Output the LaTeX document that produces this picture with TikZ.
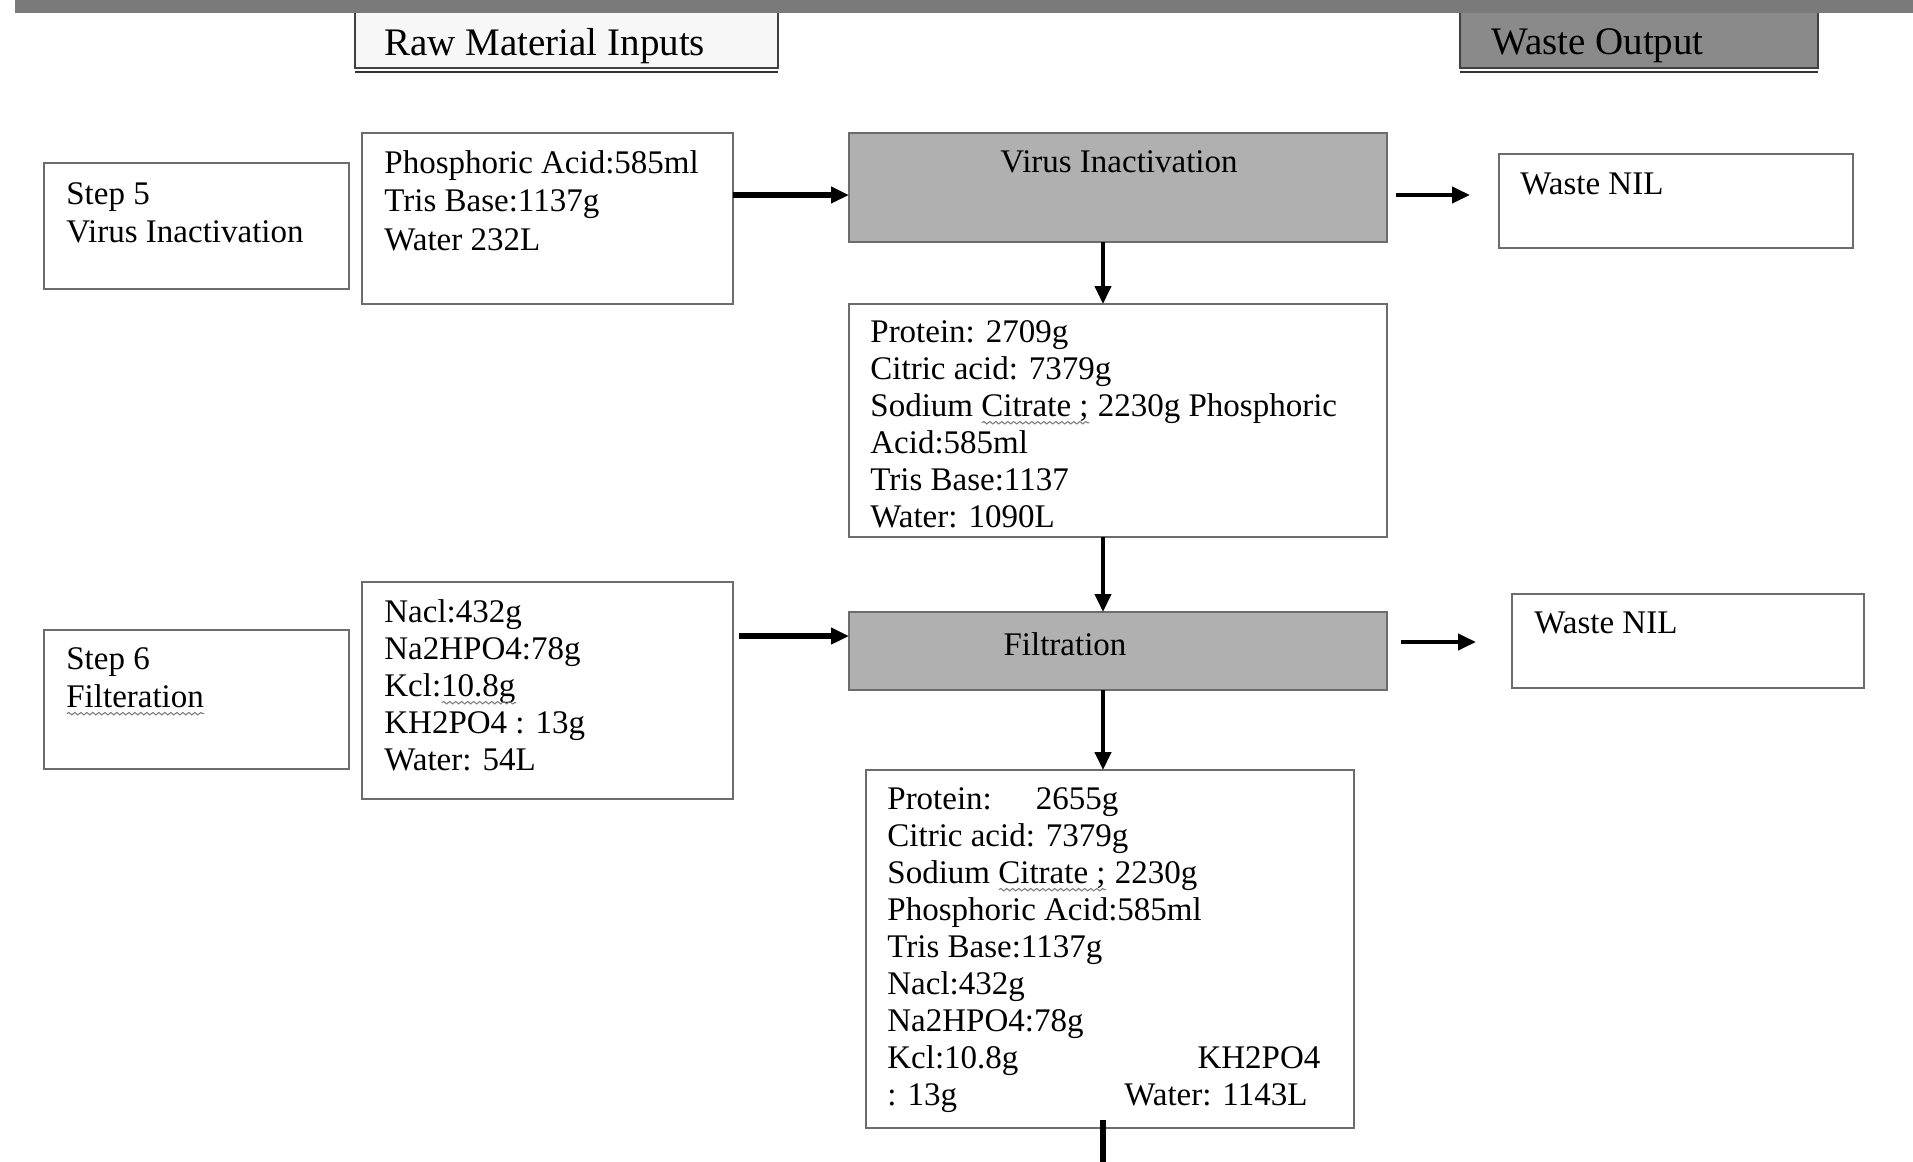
\documentclass[tikz,border=0pt]{standalone}
\usepackage{fontspec}
\setmainfont{Liberation Serif}
\usetikzlibrary{arrows.meta,decorations.pathmorphing}

\definecolor{edge}{RGB}{108,108,108}
\definecolor{stepfill}{RGB}{176,176,176}
\definecolor{barfill}{RGB}{122,122,122}
\definecolor{wastehead}{RGB}{138,138,138}
\definecolor{rawhead}{RGB}{247,247,247}

% wavy spell-check style underline
\newsavebox\spellbox
\newcommand\spellmark[1]{\sbox\spellbox{#1}\rlap{\usebox\spellbox}%
  \tikz[baseline=3.2pt]\draw[decorate, decoration={snake, amplitude=0.6pt, segment length=3pt},
    black!50, line width=0.55pt] (0pt,0pt) -- (\the\wd\spellbox,0pt);}

\tikzset{
  size/.style 2 args={minimum width=#1*0.5pt, minimum height=#2*0.5pt},
  box/.style={rectangle, draw=edge, line width=1.3pt, fill=white,
              inner sep=0pt, outer sep=0pt, anchor=north west},
  stepbox/.style={box, fill=stepfill},
  headbox/.style={rectangle, draw=black!75, line width=0.9pt,
              inner sep=0pt, outer sep=0pt, anchor=north west},
  txt/.style={anchor=north west, inner sep=0pt, align=left,
              font=\fontsize{16.5}{18.5}\selectfont},
  headtxt/.style={anchor=west, inner sep=0pt, font=\fontsize{19.5}{22}\selectfont},
  flow/.style={-{Triangle[length=9pt,width=8pt]}, line width=2pt},
  feed/.style={flow, line width=2.6pt},
}

\begin{document}
\begin{tikzpicture}[x=0.5pt, y=-0.5pt]
\useasboundingbox (0,0) rectangle (1913,1162);

% column headers
\node[headbox, fill=rawhead, size={423}{56}] (raw) at (355,12) {};
\node[headbox, fill=wastehead, size={358}{56}] (wout) at (1460,12) {};
\draw[black!80, line width=0.8pt] ([yshift=-2pt]raw.south west) -- ([yshift=-2pt]raw.south east);
\draw[black!80, line width=0.8pt] ([yshift=-2pt]wout.south west) -- ([yshift=-2pt]wout.south east);
\node[headtxt] (rawt) at ([shift={(29,6)}]raw.west) {Raw Material Inputs};
\node[headtxt] (woutt) at ([shift={(31,6)}]wout.west) {Waste Output};
\fill[barfill] (15,0) rectangle (1913,13);

% step 5
\node[box, size={305}{126}] (s5) at (44,163) {};
\node[txt, font=\fontsize{16.5}{19}\selectfont] (s5t) at ([shift={(22,19)}]s5.north west) {Step 5\\Virus Inactivation};
\node[box, size={371}{171}] (b1) at (362,133) {};
\node[txt, font=\fontsize{16.5}{19.2}\selectfont] (b1t) at ([shift={(22,17)}]b1.north west)
  {Phosphoric Acid:585ml\\Tris Base:1137g\\Water 232L};
\node[stepbox, size={538}{109}] (vi) at (849,133) {};
\node[txt, anchor=north] (vit) at ([shift={(1,17)}]vi.north) {Virus Inactivation};
\node[box, size={354}{94}] (w1) at (1499,154) {};
\node[txt] (w1t) at ([shift={(21,18)}]w1.north west) {Waste NIL};
\node[box, size={538}{233}] (b2) at (849,304) {};
\node[txt] (b2t) at ([shift={(21,16)}]b2.north west)
  {Protein: 2709g\\Citric acid: 7379g\\Sodium \spellmark{Citrate ;} 2230g Phosphoric\\Acid:585ml\\Tris Base:1137\\Water: 1090L};

% step 6
\node[box, size={305}{139}] (s6) at (44,630) {};
\node[txt, font=\fontsize{16.5}{19}\selectfont] (s6t) at ([shift={(22,17)}]s6.north west) {Step 6\\\spellmark{Filteration}};
\node[box, size={371}{217}] (b4) at (362,582) {};
\node[txt] (b4t) at ([shift={(22,17)}]b4.north west)
  {Nacl:432g\\Na2HPO4:78g\\Kcl:\spellmark{10.8g}\\KH2PO4 : 13g\\Water: 54L};
\node[stepbox, size={538}{78}] (filt) at (849,612) {};
\node[txt, anchor=north] (filtt) at ([shift={(-53,20)}]filt.north) {Filtration};
\node[box, size={352}{94}] (w2) at (1512,594) {};
\node[txt] (w2t) at ([shift={(22,17)}]w2.north west) {Waste NIL};
\node[box, size={488}{358}] (b3) at (866,770) {};
\node[txt] (b3t) at ([shift={(21,17)}]b3.north west)
  {Protein:\hspace{22pt}2655g\\Citric acid: 7379g\\Sodium \spellmark{Citrate ;} 2230g\\Phosphoric Acid:585ml\\Tris Base:1137g\\Nacl:432g\\Na2HPO4:78g\\
   \hbox to 216.5pt{Kcl:10.8g\hfill KH2PO4}\\
   \hbox to 216.5pt{: 13g\hfill Water: 1143L\hspace*{6.5pt}}};

% connector guides
\coordinate (col) at (1103,0);
\coordinate (row1) at (0,195);
\coordinate (row2) at (0,636);
\coordinate (row3) at (0,642);
\coordinate (tail) at (1103,1162);

% connectors
\draw[feed] (b1.east |- row1) -- (vi.west |- row1);
\draw[flow, shorten <=4.5pt, shorten >=14.5pt] (vi.east |- row1) -- (w1.west |- row1);
\draw[flow] (vi.south -| col) -- (b2.north -| col);
\draw[flow] (b2.south -| col) -- (filt.north -| col);
\draw[feed, shorten <=3pt] (b4.east |- row2) -- (filt.west |- row2);
\draw[flow, shorten <=7pt, shorten >=18pt] (filt.east |- row3) -- (w2.west |- row3);
\draw[flow] (filt.south -| col) -- (b3.north -| col);
\path (b3.south -| col) coordinate (b3out);
\draw[line width=3pt] ([yshift=4pt]b3out) -- (tail);
\end{tikzpicture}
\end{document}
